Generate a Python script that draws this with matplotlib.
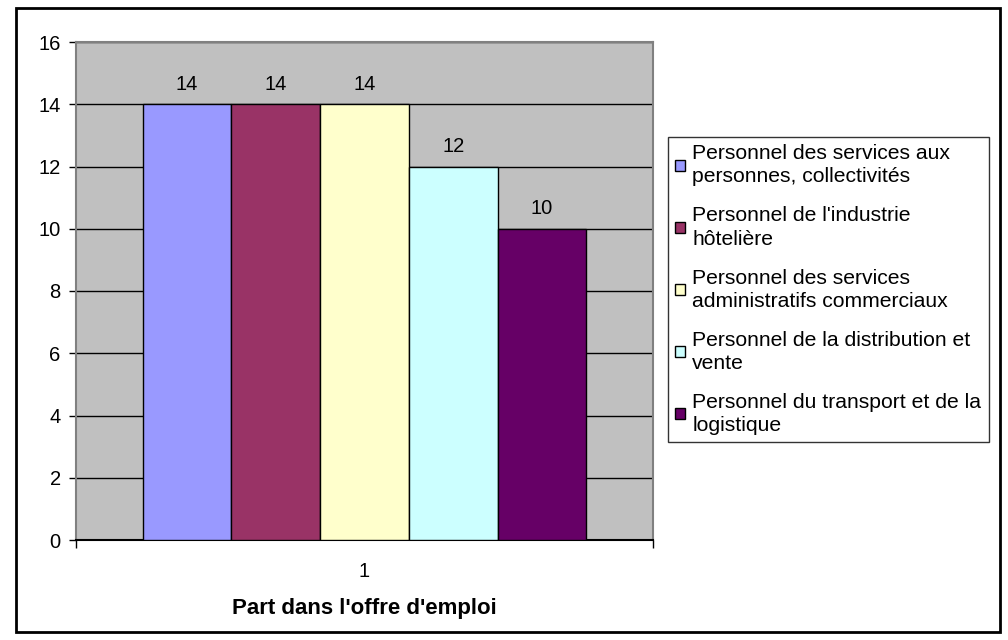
import matplotlib.pyplot as plt
from matplotlib.patches import Rectangle

plt.rcParams['font.family'] = ['Liberation Sans', 'DejaVu Sans']

categories = [
    "Personnel des services aux\npersonnes, collectivités",
    "Personnel de l'industrie\nhôtelière",
    "Personnel des services\nadministratifs commerciaux",
    "Personnel de la distribution et\nvente",
    "Personnel du transport et de la\nlogistique",
]
valeurs = [14, 14, 14, 12, 10]
couleurs = ['#9999FF', '#993366', '#FFFFCC', '#CCFFFF', '#660066']
groupe = "1"

fig = plt.figure(figsize=(10.08, 6.4), dpi=100)
ax = fig.add_axes([76 / 1008, 1 - 540 / 640, 577 / 1008, 498 / 640])
ax.set_facecolor('#C0C0C0')

n = len(valeurs)
for i, (v, c, lab) in enumerate(zip(valeurs, couleurs, categories)):
    x = i - (n - 1) / 2
    ax.bar(x, v, width=1, color=c, edgecolor='black', linewidth=1, label=lab, zorder=3)
    ax.text(x, v + 0.65, str(v), ha='center', va='center', fontsize=14.5, zorder=4)

ax.set_xlim(-n / 2 - 0.75, n / 2 + 0.75)
ax.set_ylim(0, 16)
ax.set_yticks(range(0, 17, 2))
ax.yaxis.grid(True, color='black', linewidth=1, zorder=1)
ax.tick_params(axis='y', labelsize=14.5, length=5, width=1, pad=6)

# tick "1" au centre du groupe, graduations aux bords
ax.set_xticks([0])
ax.set_xticklabels([groupe], fontsize=14.5)
ax.tick_params(axis='x', length=0, pad=16)
ax.set_xticks([ax.get_xlim()[0], ax.get_xlim()[1]], minor=True)
ax.tick_params(axis='x', which='minor', length=6, width=1, color='black')

for s in ['left', 'right', 'top']:
    ax.spines[s].set_color('#808080')
    ax.spines[s].set_linewidth(1.5)
ax.spines['bottom'].set_color('black')
ax.spines['bottom'].set_linewidth(1.5)

ax.set_xlabel("Part dans l'offre d'emploi", fontsize=16, fontweight='bold', labelpad=12)

leg = fig.legend(loc='upper left', bbox_to_anchor=(668 / 1008, 1 - 137 / 640),
                 fontsize=15.2, frameon=True, fancybox=False, edgecolor='black',
                 handlelength=0.45, handleheight=0.45, handletextpad=0.35,
                 labelspacing=0.95, borderpad=0.35, borderaxespad=0)
leg.get_frame().set_linewidth(1)
for t in leg.get_texts():
    t.set_linespacing(1.27)
for h in leg.legend_handles:
    h.set_linewidth(1)

fig.patches.append(Rectangle((16 / 1008, 8 / 640), 984 / 1008, 624 / 640,
                             transform=fig.transFigure, fill=False,
                             edgecolor='black', linewidth=2))

fig.savefig('out.png', dpi=100)
